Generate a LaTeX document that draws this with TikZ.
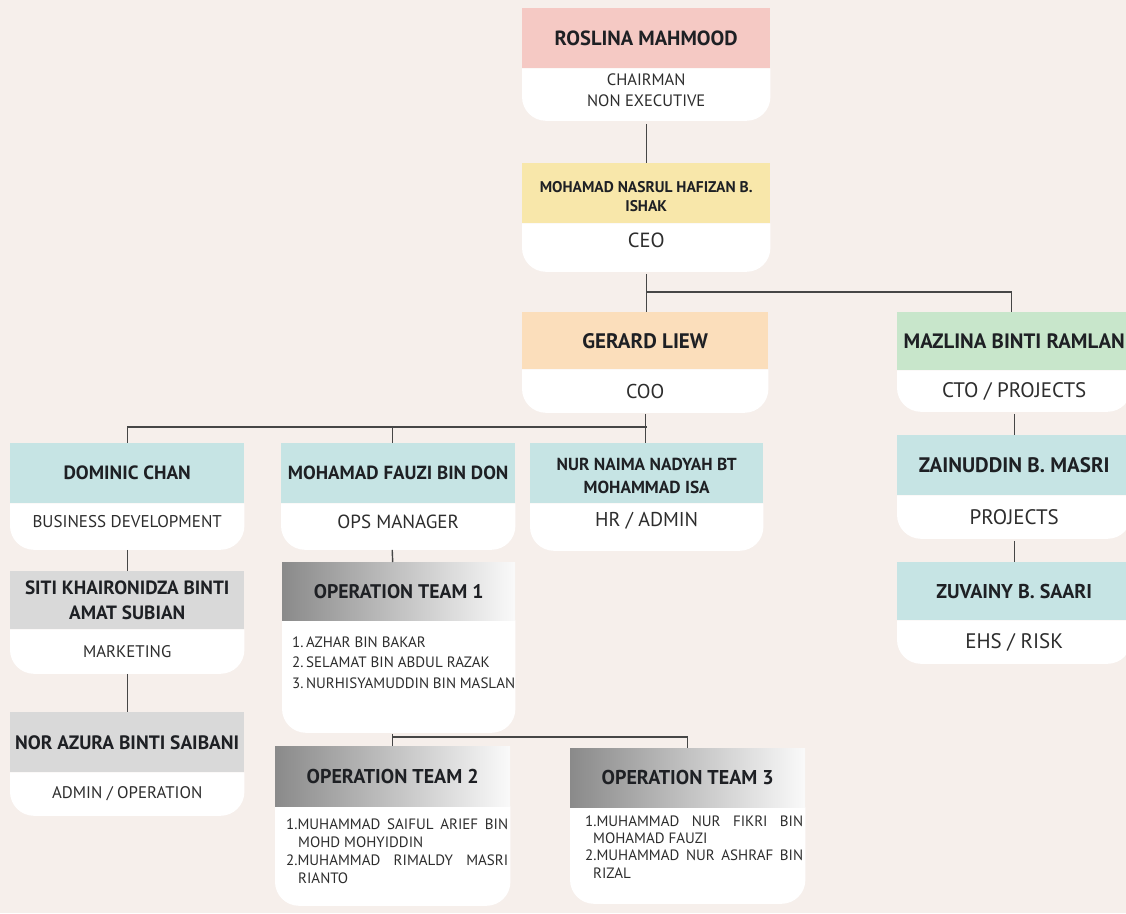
\documentclass[tikz,border=0pt]{standalone}
\usepackage{fontspec}
\setmainfont{PT Sans}
\usetikzlibrary{calc}
\pgfdeclarelayer{bgl}
\pgfdeclarelayer{cardbg}
\pgfsetlayers{bgl,cardbg,main}
\definecolor{bgc}{RGB}{246,239,235}
\definecolor{ink}{RGB}{30,32,36}
\definecolor{sub}{RGB}{45,45,45}
\definecolor{lnc}{RGB}{70,70,70}
\definecolor{cpink}{RGB}{245,201,196}
\definecolor{cyell}{RGB}{248,231,170}
\definecolor{cpeach}{RGB}{251,222,187}
\definecolor{cgreen}{RGB}{200,230,203}
\definecolor{cteal}{RGB}{198,228,228}
\definecolor{cgray}{RGB}{217,217,217}
\definecolor{gdark}{RGB}{138,138,138}
\tikzset{
  hdr/.style={inner sep=0pt, align=center, text=ink},
  bodyn/.style={inner sep=0pt, align=center, text=sub},
  conn/.style={draw=lnc, line width=1.4pt},
  teamhdr/.style={left color=gdark, right color=white!96!gray},
  hf/.style 2 args={font=\bfseries\fontsize{#1}{#2}\selectfont},
  bf/.style 2 args={font=\fontsize{#1}{#2}\selectfont}
}
% name, (x,y), width, header h, body h, header opts, body opts, header text, body text
\newcommand\card[9]{%
  \node[hdr, #6, minimum width=#3pt, minimum height=#4pt, anchor=north west] (#1) at #2 {#8};
  \node[bodyn, #7, minimum width=#3pt, minimum height=#5pt, anchor=north] (#1b) at (#1.south) {#9};
  \begin{pgfonlayer}{cardbg}
    \fill[white] (#1b.north west) [rounded corners=24pt] -- (#1b.south west) -- (#1b.south east) [sharp corners] -- (#1b.north east) -- cycle;
  \end{pgfonlayer}
}
\begin{document}
\begin{tikzpicture}[x=1pt, y=-1pt]
\begin{pgfonlayer}{bgl}
  \fill[bgc] (0,0) rectangle (1126,913);
\end{pgfonlayer}
\useasboundingbox (0,0) rectangle (1126,913);

% top
\card{ros}{(522,8)}{248}{60}{52}{fill=cpink, hf={20.5}{24}}{bf={16.5}{21}, text depth=8pt}{ROSLINA MAHMOOD}{CHAIRMAN\\NON EXECUTIVE}
\card{nas}{(522,163)}{248}{60}{48}{fill=cyell, hf={15.5}{19}}{bf={20.5}{24}}{\raisebox{-3pt}[\height][\depth]{MOHAMAD NASRUL HAFIZAN B.}\\\raisebox{-3pt}[\height][\depth]{ISHAK}}{\raisebox{7pt}[\height][\depth]{CEO}}
\card{ger}{(522,312)}{246}{57}{43}{fill=cpeach, hf={21}{24}}{bf={20}{24}}{GERARD LIEW}{COO}
\card{maz}{(897,312)}{234}{58}{41}{fill=cgreen, hf={20.8}{24}}{bf={21}{24}}{MAZLINA BINTI RAMLAN}{CTO / PROJECTS}

% third row
\card{dom}{(10,443)}{234}{60}{46}{fill=cteal, hf={19.2}{23}}{bf={17}{20}}{DOMINIC CHAN}{\raisebox{5pt}[\height][\depth]{BUSINESS DEVELOPMENT}}
\card{fau}{(281,443)}{234}{60}{46}{fill=cteal, hf={19}{23}}{bf={19}{22}}{MOHAMAD FAUZI BIN DON}{\raisebox{5pt}[\height][\depth]{OPS MANAGER}}
\card{nai}{(530,443)}{233}{60}{47}{fill=cteal, hf={17.4}{23}}{bf={20}{23}}{\raisebox{-3pt}[\height][\depth]{NUR NAIMA NADYAH BT}\\\raisebox{-3pt}[\height][\depth]{MOHAMMAD ISA}}{\raisebox{6pt}[\height][\depth]{HR / ADMIN}}
\card{zai}{(897,435)}{234}{60}{43}{fill=cteal, hf={21}{24}}{bf={21}{24}}{ZAINUDDIN B. MASRI}{PROJECTS}
\card{zuv}{(897,562)}{234}{58}{43}{fill=cteal, hf={20}{24}}{bf={21}{24}}{ZUVAINY B. SAARI}{EHS / RISK}

% left column
\card{sit}{(10,571)}{234}{58}{44}{fill=cgray, hf={19.2}{25}}{bf={16.8}{20}}{SITI KHAIRONIDZA BINTI\\AMAT SUBIAN}{MARKETING}
\card{nor}{(10,712)}{234}{60}{43}{fill=cgray, hf={19.4}{23}}{bf={16.8}{20}}{NOR AZURA BINTI SAIBANI}{ADMIN / OPERATION}

% operation teams
\card{tone}{(282,562)}{233}{58}{112}{teamhdr, hf={19.7}{24}}{bf={15}{20.5}}{OPERATION TEAM 1}{\parbox[c][108pt][t]{233pt}{\raggedright\vspace{14pt}\hspace*{10pt}1.\,AZHAR BIN BAKAR\\\hspace*{10pt}2.\,SELAMAT BIN ABDUL RAZAK\\\hspace*{10pt}3.\,NURHISYAMUDDIN BIN MASLAN}}
\card{ttwo}{(275,746)}{235}{60}{99}{teamhdr, hf={20}{24}}{bf={15}{18}}{OPERATION TEAM 2}{\parbox[c][96pt][t]{235pt}{\raggedright\vspace{11pt}\hspace*{11pt}\makebox[222pt][s]{1.MUHAMMAD SAIFUL ARIEF BIN}\\\hspace*{23pt}MOHD MOHYIDDIN\\\hspace*{11pt}\makebox[222pt][s]{2.MUHAMMAD RIMALDY MASRI}\\\hspace*{23pt}RIANTO}}
\card{tthr}{(570,748)}{235}{59}{96}{teamhdr, hf={20}{24}}{bf={15}{17.3}}{OPERATION TEAM 3}{\parbox[c][92pt][t]{235pt}{\raggedright\vspace{6pt}\hspace*{15pt}\makebox[218pt][s]{1.MUHAMMAD NUR FIKRI BIN}\\\hspace*{23pt}MOHAMAD FAUZI\\\hspace*{15pt}\makebox[218pt][s]{2.MUHAMMAD NUR ASHRAF BIN}\\\hspace*{23pt}RIZAL}}

% connectors
\draw[conn] ($(rosb.south)+(0,3)$) -- (nas.north);
\coordinate (j1) at ($(nasb.south)+(0,20)$);
\draw[conn] ($(nasb.south)+(0,2)$) -- (nasb.south |- ger.north);
\draw[conn] (j1) -| ($(maz.north)+(-3,0)$);
\coordinate (j2) at ($(nai.north)+(0,-16)$);
\draw[conn] ($(gerb.south)+(0,1)$) -- (gerb.south |- nai.north);
\draw[conn] (j2) -| (dom.north);
\draw[conn] ($(j2 -| fau.north)+(-6,0)$) -- ($(fau.north)+(-6,0)$);
\draw[conn] ($(mazb.south)+(0,2)$) -- (zai.north);
\draw[conn] ($(zaib.south)+(0,2)$) -- (zuv.north);
\draw[conn] (domb.south) -- (sit.north);
\draw[conn] (sitb.south) -- (nor.north);
\draw[conn] ($(faub.south)+(-6,0)$) -- ($(tone.north)+(-6,0)$);
\coordinate (j3) at ($(ttwo.north)+(0,-9)$);
\draw[conn] ($(toneb.south)+(-6,1)$) -- (ttwo.north);
\draw[conn] (j3) -| (tthr.north);
\end{tikzpicture}
\end{document}
